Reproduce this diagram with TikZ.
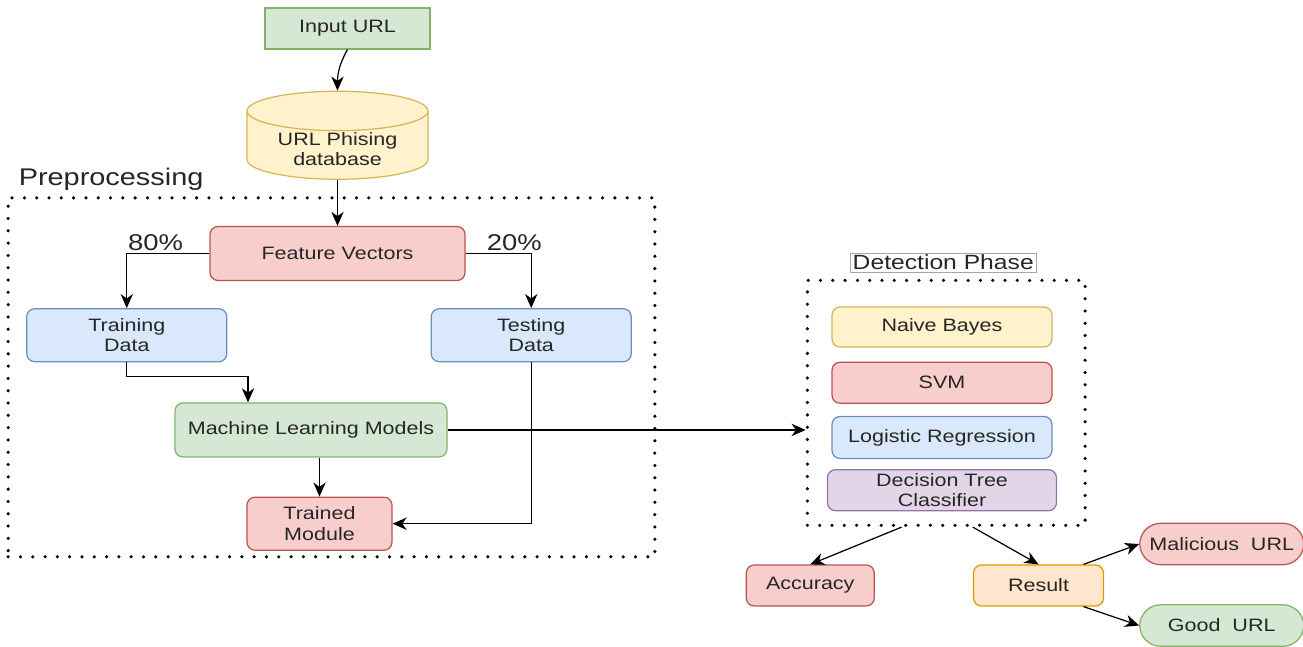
\documentclass[tikz,border=0pt]{standalone}
\usepackage{fontspec}
\setmainfont{Liberation Sans}[FakeStretch=1.2]
\usetikzlibrary{arrows.meta}
\usetikzlibrary{fit}
\usetikzlibrary{positioning}
\usetikzlibrary{shapes.geometric}

\definecolor{greenfill}{HTML}{D5E8D4}
\definecolor{greenline}{HTML}{82B366}
\definecolor{yellowfill}{HTML}{FFF2CC}
\definecolor{yellowline}{HTML}{D6B656}
\definecolor{redfill}{HTML}{F8CECC}
\definecolor{redline}{HTML}{B85450}
\definecolor{bluefill}{HTML}{DAE8FC}
\definecolor{blueline}{HTML}{6C8EBF}
\definecolor{purplefill}{HTML}{E1D5E7}
\definecolor{purpleline}{HTML}{9673A6}
\definecolor{orangefill}{HTML}{FFE6CC}
\definecolor{orangeline}{HTML}{D79B00}

\begin{document}
\begin{tikzpicture}[
				node distance=5mm,
				font=\fontsize{10.2}{11.6}\selectfont,
				arrow/.style={line width=0.7pt, -{Stealth[length=8pt, width=7pt, inset=2.5pt]}},
				block/.style={draw, line width=0.7pt, rounded corners=0.16cm, align=center, text=black!85, minimum height=1.06cm},
				greenblock/.style={block, fill=greenfill, draw=greenline},
				yellowblock/.style={block, fill=yellowfill, draw=yellowline},
				redblock/.style={block, fill=redfill, draw=redline},
				blueblock/.style={block, fill=bluefill, draw=blueline},
				purpleblock/.style={block, fill=purplefill, draw=purpleline},
				orangeblock/.style={block, fill=orangefill, draw=orangeline},
				pill/.style={rounded corners=0.42cm, minimum width=3.28cm, minimum height=0.83cm},
				database/.style={cylinder, shape border rotate=90, aspect=0.3, draw=yellowline, fill=yellowfill, line width=0.7pt, align=center, text=black!85, inner ysep=0.5pt, minimum width=3.62cm, minimum height=1.72cm},
				group/.style={draw, line width=2pt, dash pattern=on 0pt off 7pt, line cap=round, inner sep=0pt},
				grouptitle/.style={font=\fontsize{13.7}{15}\selectfont, text=black!85, inner sep=0pt},
				pct/.style={font=\fontsize{13}{15}\selectfont, text=black!85, inner sep=0pt},
				phasetitle/.style={draw=black!35, line width=0.4pt, inner sep=1.2pt, font=\fontsize{11.7}{13}\selectfont, text=black!85},
			]
				\useasboundingbox (0,0) rectangle (26.06,-12.92);

				% data preparation column
				\node[greenblock, rounded corners=0pt, minimum width=3.3cm, minimum height=0.82cm] (input) at (6.95,-0.57) {Input URL};
				\node[database, below=0.82cm of input, xshift=-0.2cm] (database) {URL Phising\\database};
				\node[redblock, minimum width=5.1cm, minimum height=1.08cm, below=0.92cm of database] (features) {Feature Vectors};
				\node[blueblock, minimum width=4cm, below left=0.54cm and -0.36cm of features] (training) {Training\\Data};
				\node[blueblock, minimum width=4cm, below right=0.54cm and -0.7cm of features] (testing) {Testing\\Data};
				\node[greenblock, minimum width=5.44cm, minimum height=1.08cm, below right=0.8cm and -1.06cm of training] (models) {Machine Learning Models};
				\node[redblock, minimum width=2.9cm, below=0.78cm of models, xshift=0.17cm] (trained) {Trained\\Module};

				\node[pct, anchor=base east] (eighty) at ([xshift=-0.52cm, yshift=0.06cm]features.west) {80\%};
				\node[pct, anchor=base west] (twenty) at ([xshift=0.42cm, yshift=0.06cm]features.east) {20\%};

				% classifiers
				\node[yellowblock, minimum width=4.4cm, minimum height=0.8cm] (bayes) at (18.84,-6.54) {Naive Bayes};
				\node[redblock, minimum width=4.4cm, minimum height=0.82cm, below=0.28cm of bayes] (svm) {SVM};
				\node[blueblock, minimum width=4.4cm, minimum height=0.84cm, below=0.24cm of svm] (logistic) {Logistic Regression};
				\node[purpleblock, minimum width=4.58cm, minimum height=0.82cm, inner ysep=0.5pt, below=0.2cm of logistic] (tree) {Decision Tree\\Classifier};

				% outputs
				\node[orangeblock, minimum width=2.6cm, minimum height=0.82cm] (result) at (20.77,-11.71) {Result};
				\node[redblock, minimum width=2.56cm, minimum height=0.82cm, left=1.96cm of result] (accuracy) {Accuracy};
				\node[redblock, pill, right=0.7cm of result, yshift=0.83cm] (malicious) {Malicious~ URL};
				\node[greenblock, pill, right=0.7cm of result, yshift=-0.8cm] (good) {Good~ URL};

				% dotted groups
				\coordinate (pre-nw) at (features.north -| training.west);
				\coordinate (pre-se) at (trained.south -| testing.east);
				\node[group, fit={([xshift=-0.36cm, yshift=0.56cm]pre-nw) ([xshift=0.46cm, yshift=-0.12cm]pre-se)},
					label={[grouptitle, anchor=base west, xshift=0.24cm, yshift=0.22cm]north west:Preprocessing}] (preproc) {};
				\node[group, fit={([xshift=-0.48cm, yshift=0.52cm]bayes.north west) ([xshift=0.56cm, yshift=-0.28cm]tree.south east)}] (detect) {};
				\node[phasetitle, above=0.12cm of detect, xshift=-0.06cm] (phase) {Detection Phase};

				\draw[arrow] (input.south) to[out=-120, in=90] (database.north);
				\draw[arrow] (database) -- (features);
				\draw[arrow] (features.west) -| (training.north);
				\draw[arrow] (features.east) -| (testing.north);

				\draw[arrow] (training.south) -- ++(0,-0.28) -| ([xshift=-1.26cm]models.north);
				\draw[arrow] (models.south -| trained.north) -- (trained.north);
				\draw[arrow] (testing.south) |- (trained.east);

				\draw[arrow] (models.east) -- (models.east -| detect.west);
				\draw[arrow] ([xshift=-0.89cm]detect.south) -- (accuracy.north);
				\draw[arrow] ([xshift=0.53cm]detect.south) -- (result.north);
				\draw[arrow] ([xshift=0.9cm]result.north) -- (malicious.west);
				\draw[arrow] ([xshift=0.9cm]result.south) -- (good.west);
			\end{tikzpicture}
\end{document}
